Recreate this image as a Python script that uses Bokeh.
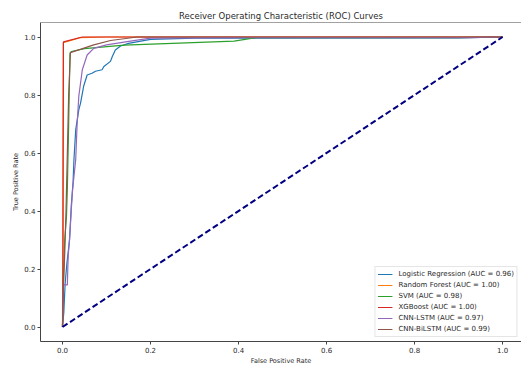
from bokeh.plotting import figure
from bokeh.models import Legend, LegendItem, Span, FixedTicker, NumeralTickFormatter
from bokeh.embed import file_html
from bokeh.resources import INLINE

# ---- data ----
model_names = ["Logistic Regression", "Random Forest", "SVM", "XGBoost", "CNN-LSTM", "CNN-BiLSTM"]
auc_values = [0.96, 1.00, 0.98, 1.00, 0.97, 0.99]
colors = ["#1f77b4", "#ff7f0e", "#2ca02c", "#d62728", "#9467bd", "#8c564b"]

lr_fpr = [0.0, 0.003, 0.006, 0.010, 0.016, 0.020, 0.024, 0.026, 0.030, 0.037, 0.041, 0.048, 0.056, 0.067,
          0.075, 0.090, 0.094, 0.109, 0.113, 0.120, 0.132, 0.150, 0.200, 0.300, 0.900, 1.0]
lr_tpr = [0.0, 0.05, 0.15, 0.22, 0.30, 0.42, 0.50, 0.577, 0.68, 0.749, 0.772, 0.83, 0.869, 0.875,
          0.882, 0.887, 0.898, 0.916, 0.932, 0.955, 0.969, 0.978, 0.992, 0.996, 0.997, 1.0]

rf_fpr = [0.0, 0.001, 0.002, 0.040, 0.100, 1.0]
rf_tpr = [0.0, 0.60, 0.980, 0.998, 1.0, 1.0]

svm_fpr = [0.0, 0.002, 0.005, 0.009, 0.011, 0.014, 0.017, 0.020, 0.050, 0.140, 0.390, 0.440, 0.900, 1.0]
svm_tpr = [0.0, 0.15, 0.30, 0.38, 0.474, 0.70, 0.944, 0.950, 0.960, 0.972, 0.986, 0.998, 0.998, 1.0]

xgb_fpr = [0.0, 0.001, 0.002, 0.045, 1.0]
xgb_tpr = [0.0, 0.12, 0.983, 1.0, 1.0]

cnn_lstm_fpr = [0.0, 0.002, 0.011, 0.012, 0.013, 0.017, 0.020, 0.023, 0.030, 0.033, 0.037, 0.045, 0.056,
                0.071, 0.100, 0.147, 0.200, 0.400, 0.930, 1.0]
cnn_lstm_tpr = [0.0, 0.145, 0.145, 0.20, 0.245, 0.325, 0.405, 0.474, 0.577, 0.692, 0.795, 0.887, 0.938,
                0.961, 0.973, 0.984, 0.996, 0.998, 0.998, 1.0]

cnn_bilstm_fpr = [0.0, 0.002, 0.005, 0.008, 0.011, 0.014, 0.018, 0.042, 0.071, 0.109, 0.170, 1.0]
cnn_bilstm_tpr = [0.0, 0.14, 0.25, 0.40, 0.60, 0.80, 0.946, 0.958, 0.973, 0.988, 1.0, 1.0]

diag_x = [0.0, 1.0]
diag_y = [0.0, 1.0]

tick_values = [0.0, 0.2, 0.4, 0.6, 0.8, 1.0]

curves_fpr = [lr_fpr, rf_fpr, svm_fpr, xgb_fpr, cnn_lstm_fpr, cnn_bilstm_fpr]
curves_tpr = [lr_tpr, rf_tpr, svm_tpr, xgb_tpr, cnn_lstm_tpr, cnn_bilstm_tpr]

FONT = "DejaVu Sans"
TXT = "#2a2a2a"

p = figure(width=521, height=367, output_backend="svg", toolbar_location=None,
           x_range=(-0.05, 1.043), y_range=(-0.05, 1.05),
           min_border_left=40, min_border_right=0, min_border_top=22, min_border_bottom=25,
           title="Receiver Operating Characteristic (ROC) Curves")
p.title.text_font = FONT
p.title.text_font_size = "8.5px"
p.title.text_font_style = "normal"
p.title.text_color = TXT
p.title.align = "center"
p.title.standoff = 3
p.title.offset = 0

p.grid.visible = False
p.outline_line_color = None
p.background_fill_color = "white"
p.border_fill_color = "white"

for ax in (p.xaxis, p.yaxis):
    ax.ticker = FixedTicker(ticks=tick_values)
    ax.formatter = NumeralTickFormatter(format="0.0")
    ax.major_label_text_font = FONT
    ax.major_label_text_font_size = "7px"
    ax.major_label_text_color = TXT
    ax.major_label_standoff = 2
    ax.major_tick_in = 0
    ax.major_tick_out = 3
    ax.minor_tick_line_color = None
    ax.axis_line_color = "#444444"
    ax.major_tick_line_color = "#444444"
    ax.axis_label_text_font = FONT
    ax.axis_label_text_font_size = "6.5px"
    ax.axis_label_text_font_style = "normal"
    ax.axis_label_text_color = TXT
    ax.axis_label_standoff = 1

p.xaxis.axis_label = "False Positive Rate"
p.yaxis.axis_label = "True Positive Rate"
p.yaxis.major_label_orientation = "horizontal"

# top spine
p.add_layout(Span(location=1.05, dimension="width", line_color="#444444", line_width=1))

items = []
for name, auc, col, fx, ty in zip(model_names, auc_values, colors, curves_fpr, curves_tpr):
    r = p.line(fx, ty, line_color=col, line_width=1.2)
    items.append(LegendItem(label=f"{name} (AUC = {auc:.2f})", renderers=[r]))

p.line(diag_x, diag_y, line_color="navy", line_width=2, line_dash="6 3")

legend = Legend(items=items, location="bottom_right",
                label_text_font=FONT, label_text_font_size="7px", label_text_color=TXT,
                label_height=10, glyph_height=10, glyph_width=15, label_standoff=6,
                spacing=1, padding=2, margin=4,
                border_line_color="#cccccc", border_line_width=1,
                background_fill_color="white", background_fill_alpha=0.8)
p.add_layout(legend)

open("out.html", "w").write(file_html(p, INLINE))
